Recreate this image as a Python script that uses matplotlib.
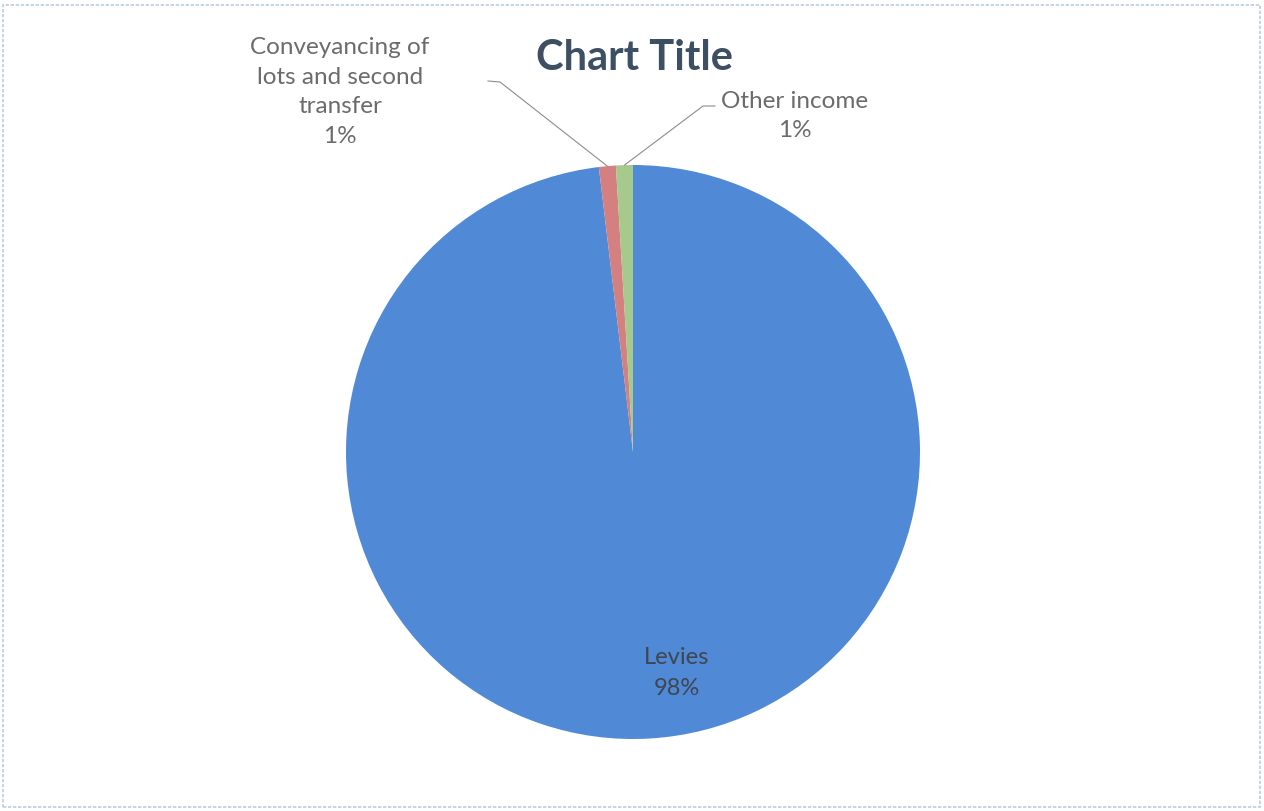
import numpy as np
import matplotlib
matplotlib.use("Agg")
import matplotlib.pyplot as plt
from matplotlib.patches import Rectangle

categories = ["Levies", "Conveyancing of\nlots and second\ntransfer", "Other income"]
values = [98.1, 0.95, 0.95]
pct_labels = ["98%", "1%", "1%"]
colors = ["#5089d6", "#d47f80", "#a6c98c"]

W, H = 1264, 812
fig = plt.figure(figsize=(W / 100, H / 100), dpi=100)
fig.patch.set_facecolor("white")

# outer chart frame
fig.patches.append(Rectangle((3 / W, 4 / H), (1260 - 3) / W, (808 - 6) / H,
                             transform=fig.transFigure, fill=False,
                             edgecolor="#b9cde3", linewidth=1.2, linestyle=(0, (2, 1))))

cx, cy, R = 633, 453, 287
ax = fig.add_axes([(cx - R) / W, (H - cy - R) / H, 2 * R / W, 2 * R / H])
wedges, _ = ax.pie(values, colors=colors, startangle=90, counterclock=False,
                   radius=1, wedgeprops=dict(linewidth=0))
ax.set_xlim(-1, 1)
ax.set_ylim(-1, 1)
ax.set_aspect("auto")
ax.axis("off")

def px2d(px, py):
    return ((px - cx) / R, (cy - py) / R)

font = ["Lato", "DejaVu Sans"]

# Title
fig.text(634 / W, 1 - 58 / H, "Chart Title", ha="center", va="center",
         fontsize=30, fontweight="bold", color="#3d4f63", family=font)

# Levies label inside
lx, ly = px2d(677, 673)
ax.text(lx, ly, f"{categories[0]}\n{pct_labels[0]}", ha="center", va="center",
        fontsize=17, color="#3f4650", family=font, linespacing=1.55)

# Outside labels with leader lines
def mid_point(w):
    ang = np.deg2rad((w.theta1 + w.theta2) / 2)
    return np.cos(ang), np.sin(ang)

# Conveyancing
tx, ty = px2d(340, 92)
ax.text(tx, ty, f"{categories[1]}\n{pct_labels[1]}", ha="center", va="center",
        fontsize=17.5, color="#6b6b6b", family=font, linespacing=1.5)
mx, my = mid_point(wedges[1])
a = px2d(488, 82)
b = px2d(500, 83)
ax.plot([a[0], b[0], mx], [a[1], b[1], my], color="#8c8c8c", lw=0.8,
        clip_on=False)

# Other income
tx, ty = px2d(795, 116)
ax.text(tx, ty, f"{categories[2]}\n{pct_labels[2]}", ha="center", va="center",
        fontsize=17.5, color="#6b6b6b", family=font, linespacing=1.5)
mx, my = mid_point(wedges[2])
a = px2d(715, 107)
b = px2d(703, 107)
ax.plot([a[0], b[0], mx], [a[1], b[1], my], color="#8c8c8c", lw=0.8,
        clip_on=False)

fig.savefig("out.png", dpi=100, facecolor="white")
